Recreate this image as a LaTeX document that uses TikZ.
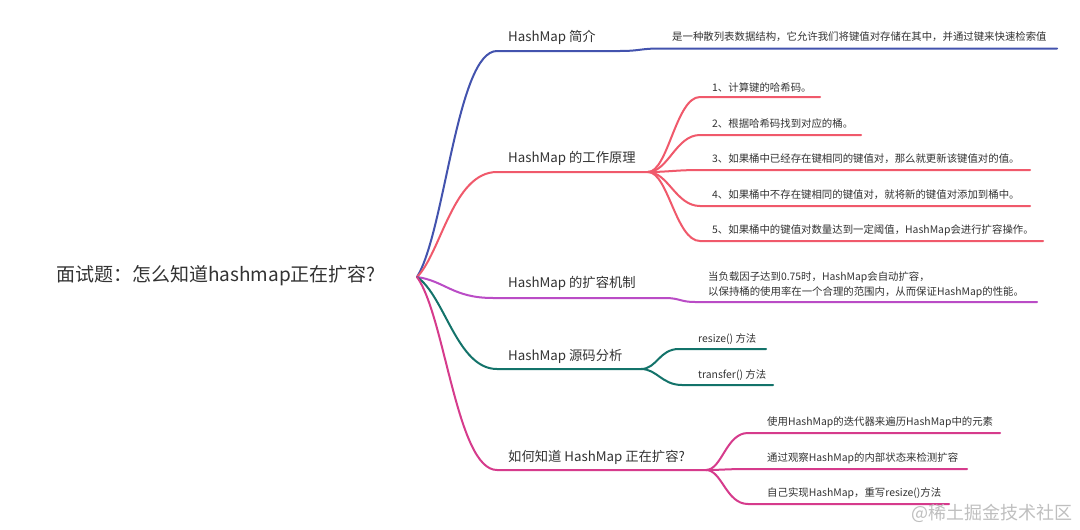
\documentclass[tikz,border=0pt]{standalone}
\usepackage{fontspec}
\setmainfont{Noto Sans CJK SC}
\usetikzlibrary{calc}
\definecolor{cblue}{HTML}{4353AE}
\definecolor{cred}{HTML}{F0596B}
\definecolor{cpurple}{HTML}{BA4CC6}
\definecolor{cteal}{HTML}{13736A}
\definecolor{cmag}{HTML}{D63B8C}
\definecolor{ctext}{HTML}{333333}
\begin{document}
\begin{tikzpicture}[x=1pt,y=-1pt,
  branch/.style={line width=2pt, line cap=round},
  lbl/.style={anchor=west, inner sep=0pt, text=ctext, font=\fontsize{13.3}{16}\selectfont},
  leaf/.style={anchor=west, inner sep=0pt, text=ctext, font=\fontsize{10.4}{15}\selectfont},
  rootlbl/.style={anchor=west, inner sep=0pt, text=ctext, font=\fontsize{19}{22}\selectfont}]
\useasboundingbox[fill=white] (0,0) rectangle (1080,530);

% root
\node[rootlbl] (root) at (56,276) {面试题：怎么知道hashmap正在扩容?};
\coordinate (hub) at (417,277);

% main branch end points
\coordinate (b1) at (497,51);   \coordinate (b1m) at (620,51);  \coordinate (b1t) at (660,48.5); \coordinate (b1e) at (1057,48.5);
\coordinate (b2) at (497,172);  \coordinate (b2s) at (648,172);
\coordinate (b3) at (493,298);  \coordinate (b3m) at (665,298); \coordinate (b3t) at (695,302); \coordinate (b3e) at (1037,302);
\coordinate (b4) at (497,369);  \coordinate (b4s) at (641,369);
\coordinate (b5) at (497,470);  \coordinate (b5s) at (706,470);

% labels
\node[lbl] (l1) at (508,37) {HashMap 简介};
\node[lbl] (l2) at (508,158) {HashMap 的工作原理};
\node[lbl] (l3) at (508,283) {HashMap 的扩容机制};
\node[lbl] (l4) at (508,356) {HashMap 源码分析};
\node[lbl] (l5) at (508,457) {如何知道 HashMap 正在扩容?};

% branch 1
\draw[branch, cblue] (hub) .. controls ($(hub)+(28,-45)$) and ($(b1)+(-40,0)$) .. (b1) -- (b1m)
  .. controls ($(b1m)+(20,0)$) and ($(b1t)+(-20,0)$) .. (b1t) -- (b1e);
\node[leaf] (t1) at (672,37) {是一种散列表数据结构，它允许我们将键值对存储在其中，并通过键来快速检索值};

% branch 2
\draw[branch, cred] (hub) .. controls ($(hub)+(24,-24)$) and ($(b2)+(-44,0)$) .. (b2) -- (b2s);
\foreach \i/\y/\e in {1/97/820, 2/135/861, 3/170/1030, 4/206/1030, 5/241/1043}{
  \coordinate (r\i) at (700,\y);
  \coordinate (r\i e) at (\e,\y);
  \draw[branch, cred] (b2s) .. controls ($(b2s)+(20,0)$) and ($(r\i)+(-24,0)$) .. (r\i) -- (r\i e);
}
\node[leaf] (t21) at (712,87.5) {1、计算键的哈希码。};
\node[leaf] (t22) at (712,124) {2、根据哈希码找到对应的桶。};
\node[leaf] (t23) at (712,159) {3、如果桶中已经存在键相同的键值对，那么就更新该键值对的值。};
\node[leaf] (t24) at (712,195) {4、如果桶中不存在键相同的键值对，就将新的键值对添加到桶中。};
\node[leaf] (t25) at (712,230.5) {5、如果桶中的键值对数量达到一定阈值，HashMap会进行扩容操作。};

% branch 3
\draw[branch, cpurple] (hub) .. controls ($(hub)+(28,4)$) and ($(b3)+(-40,0)$) .. (b3) -- (b3m)
  .. controls ($(b3m)+(15,0)$) and ($(b3t)+(-15,0)$) .. (b3t) -- (b3e);
\node[leaf, align=left] (t3) at (708,284.5) {当负载因子达到0.75时，HashMap会自动扩容，\\以保持桶的使用率在一个合理的范围内，从而保证HashMap的性能。};

% branch 4
\draw[branch, cteal] (hub) .. controls ($(hub)+(28,19)$) and ($(b4)+(-40,0)$) .. (b4) -- (b4s);
\coordinate (s1) at (679,349); \coordinate (s1e) at (766,349);
\coordinate (s2) at (682,385); \coordinate (s2e) at (773,385);
\draw[branch, cteal] (b4s) .. controls ($(b4s)+(16,0)$) and ($(s1)+(-20,0)$) .. (s1) -- (s1e);
\draw[branch, cteal] (b4s) .. controls ($(b4s)+(16,0)$) and ($(s2)+(-20,0)$) .. (s2) -- (s2e);
\node[leaf] (t41) at (698,339) {resize() 方法};
\node[leaf] (t42) at (698,375) {transfer() 方法};

% branch 5
\draw[branch, cmag] (hub) .. controls ($(hub)+(28,39)$) and ($(b5)+(-40,0)$) .. (b5) -- (b5s);
\coordinate (m1) at (748,433); \coordinate (m1e) at (1000,433);
\coordinate (m2) at (748,469); \coordinate (m2e) at (967,469);
\coordinate (m3) at (748,504); \coordinate (m3e) at (949,504);
\foreach \m in {m1,m2,m3}{
  \draw[branch, cmag] (b5s) .. controls ($(b5s)+(16,0)$) and ($(\m)+(-22,0)$) .. (\m) -- (\m e);
}
\node[leaf] (t51) at (767,422) {使用HashMap的迭代器来遍历HashMap中的元素};
\node[leaf] (t52) at (767,458) {通过观察HashMap的内部状态来检测扩容};
\node[leaf] (t53) at (767,493) {自己实现HashMap，重写resize()方法};

% watermark
\node[anchor=west, inner sep=0pt, text=black!25, font=\fontsize{18}{20}\selectfont] (wm) at (911,513) {@稀土掘金技术社区};
\end{tikzpicture}
\end{document}
